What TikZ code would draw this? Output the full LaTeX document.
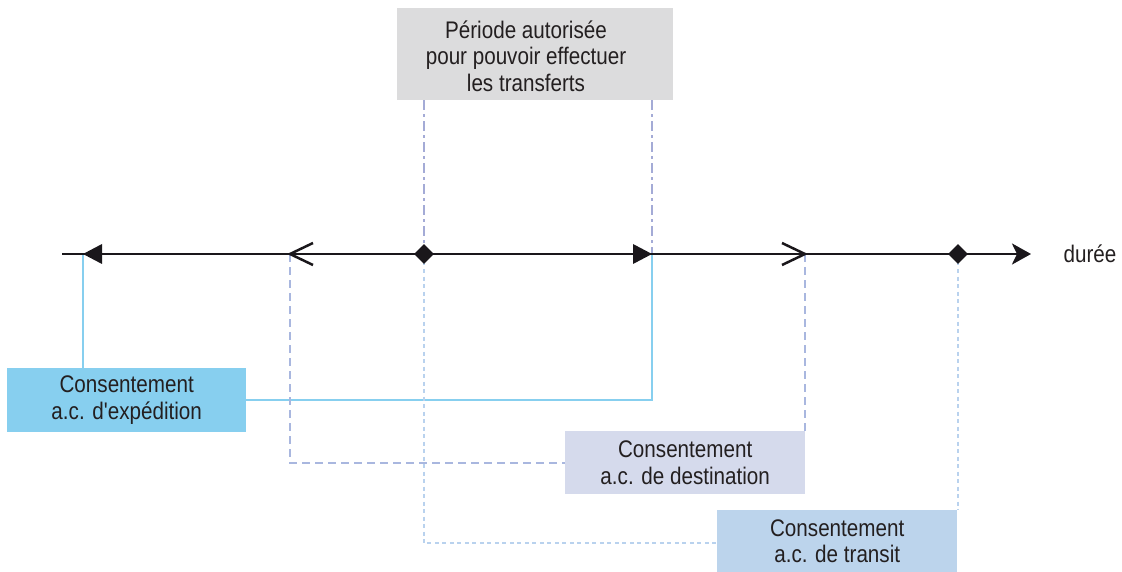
\documentclass[tikz,border=0pt]{standalone}
\usepackage{fontspec}
\setmainfont{Liberation Sans}[FakeStretch=0.86, Ligatures=TeXOff]
\usetikzlibrary{arrows.meta,shapes.geometric}
\definecolor{txt}{HTML}{231F20}
\definecolor{axc}{HTML}{1A171B}
\definecolor{expfill}{HTML}{87CFEF}
\definecolor{destfill}{HTML}{D5DAEC}
\definecolor{destcol}{HTML}{A9B7DF}
\definecolor{trafill}{HTML}{BCD4EC}
\definecolor{tracol}{HTML}{B9D2EE}
\definecolor{perfill}{HTML}{DCDCDD}
\definecolor{percol}{HTML}{A4ABD6}
\begin{document}
\begin{tikzpicture}[x=1pt,y=-1pt,
  lbl/.style={font=\fontsize{24}{26.5}\selectfont, text=txt, align=center, inner sep=0pt},
  box/.style={lbl, anchor=north west, minimum width=240pt, minimum height=63pt},
  expconn/.style={draw=expfill, line width=2pt},
  destconn/.style={draw=destcol, line width=2pt, dash pattern=on 8pt off 5pt},
  traconn/.style={draw=tracol, line width=2pt, dash pattern=on 4pt off 3.5pt},
  perconn/.style={draw=percol, line width=2pt, dash pattern=on 10pt off 4pt on 3pt off 4pt},
  tick/.style={diamond, fill=axc, minimum size=20pt, inner sep=0pt}]
\useasboundingbox (0,0) rectangle (1122,572);

% time axis reference points
\coordinate (L) at (62,254);
\coordinate (R) at (1031,254);
\coordinate (a1) at (83,254);
\coordinate (a2) at (290,254);
\coordinate (a3) at (424,254);
\coordinate (a4) at (652,254);
\coordinate (a5) at (805,254);
\coordinate (a6) at (958,254);

% boxes
\node[box, fill=perfill, minimum width=276pt, minimum height=92pt] (per) at (397,8) {};
\node[lbl] (pertext) at (526,56) {Période autorisée\\pour pouvoir effectuer\\les transferts};
\node[box, fill=expfill, minimum width=239pt, minimum height=64pt] (exp) at (7,368) {Consentement\\a.c. d'expédition};
\node[box, fill=destfill] (dest) at (565,431) {Consentement\\a.c. de destination};
\node[box, fill=trafill, minimum height=62pt] (tra) at (717,510) {Consentement\\a.c. de transit};

% connectors
\draw[perconn] (per.south -| a3) -- (a3);
\draw[perconn] (per.south -| a4) -- (a4);
\draw[expconn] (a1) -- (a1 |- exp.north);
\draw[expconn] (exp.east) -| (a4);
\draw[destconn] (a2) |- (dest.west);
\draw[destconn] (a5) -- (a5 |- dest.north);
\draw[traconn] (a3) |- ([yshift=-2pt]tra.west);
\draw[traconn] (a6) -- (a6 |- tra.north);

% axis with its markers
\draw[axc, line width=2.8pt, -{Stealth[length=19pt,width=21pt,inset=5pt]}] (L) -- (R);
\fill[axc] (a1) -- ++(19,-10) -- ++(0,20) -- cycle;
\fill[axc] (a4) -- ++(-19,-10) -- ++(0,20) -- cycle;
\draw[axc, line width=2.5pt] (a2) ++(23,-11) -- (a2) -- ++(23,11);
\draw[axc, line width=2.5pt] (a5) ++(-23,-11) -- (a5) -- ++(-23,11);
\node[tick] (m1) at (a3) {};
\node[tick] (m2) at (a6) {};
\node[lbl] (dur) at (1090,254) {durée};
\end{tikzpicture}
\end{document}
